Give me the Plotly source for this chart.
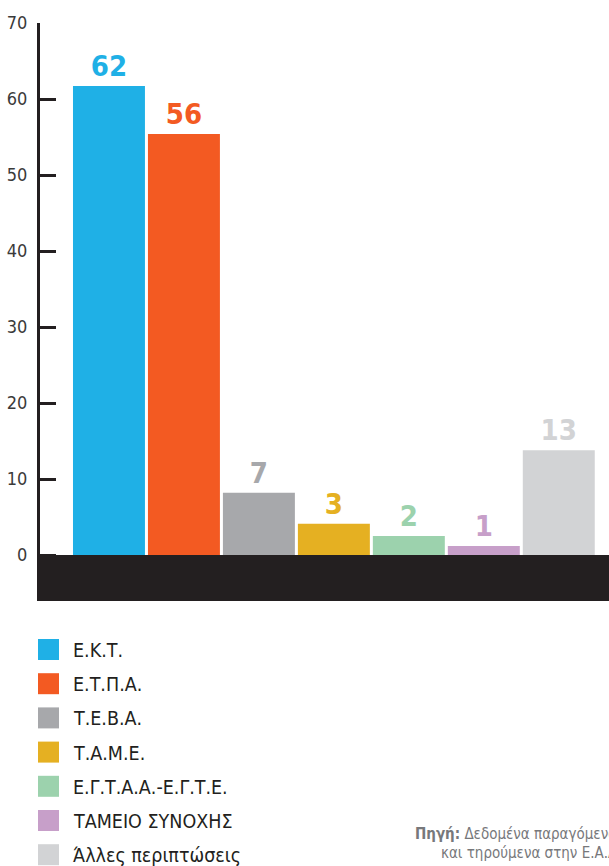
import plotly.graph_objects as go

categories = ["Ε.Κ.Τ.", "Ε.Τ.Π.Α.", "Τ.Ε.Β.Α.", "Τ.Α.Μ.Ε.", "Ε.Γ.Τ.Α.Α.-Ε.Γ.Τ.Ε.", "ΤΑΜΕΙΟ ΣΥΝΟΧΗΣ", "Άλλες περιπτώσεις"]
bar_values = [61.7, 55.4, 8.2, 4.1, 2.5, 1.2, 13.8]
bar_labels = ["62", "56", "7", "3", "2", "1", "13"]
colors = ["#1fb0e6", "#f35a22", "#a7a8ab", "#e5b022", "#9cd2ad", "#c79fc9", "#d2d3d5"]
y_ticks = [0, 10, 20, 30, 40, 50, 60, 70]

W, H = 609, 866
L, R, T, B = 40, 0, 23, 265
PW, PH = W - L - R, H - T - B

def px_x(x):
    return (x - L) / PW

def px_y(y):
    return (H - B - y) / PH

FONT = "Liberation Sans Narrow, DejaVu Sans Condensed, sans-serif"
DARK = "#231f20"

fig = go.Figure()
fig.add_trace(go.Bar(
    x=list(range(len(categories))),
    y=bar_values,
    marker=dict(color=colors, line=dict(width=0)),
    text=bar_labels,
    textposition="outside",
    textfont=dict(family=FONT, size=29, color=colors, weight="bold"),
    cliponaxis=False,
    hoverinfo="skip",
    showlegend=False,
))

shapes = [dict(type="rect", xref="paper", yref="y", x0=px_x(38), x1=1, y0=-6.05, y1=0,
               fillcolor=DARK, line=dict(width=0), layer="above")]
annotations = []
row0, step = 649.5, 34.2
for i, (cat, col) in enumerate(zip(categories, colors)):
    cy = row0 + i * step
    shapes.append(dict(type="rect", xref="paper", yref="paper",
                       x0=px_x(38), x1=px_x(59), y0=px_y(cy + 10.5), y1=px_y(cy - 10.5),
                       fillcolor=col, line=dict(width=0)))
    annotations.append(dict(xref="paper", yref="paper", x=px_x(71), y=px_y(cy + 1),
                            xanchor="left", yanchor="middle", showarrow=False,
                            text=cat, font=dict(family=FONT, size=19.5, color=DARK)))

annotations.append(dict(xref="paper", yref="paper", x=px_x(413), y=px_y(834),
                        xanchor="left", yanchor="middle", showarrow=False,
                        text="<b>Πηγή:</b> Δεδομένα παραγόμενα",
                        font=dict(family=FONT, size=15, color="#77787b")))
annotations.append(dict(xref="paper", yref="paper", x=px_x(439), y=px_y(853),
                        xanchor="left", yanchor="middle", showarrow=False,
                        text="και τηρούμενα στην Ε.Α.Δ.",
                        font=dict(family=FONT, size=15, color="#77787b")))

fig.update_layout(
    width=W, height=H,
    margin=dict(l=L, r=R, t=T, b=B, pad=0),
    paper_bgcolor="white", plot_bgcolor="white",
    bargap=0.04,
    shapes=shapes, annotations=annotations,
    xaxis=dict(range=[-0.92, 6.67], showticklabels=False, showgrid=False,
               zeroline=False, showline=False, ticks=""),
    yaxis=dict(range=[-6.05, 70], tickvals=y_ticks, showgrid=False, zeroline=False,
               showline=True, linewidth=3, linecolor=DARK,
               ticks="inside", ticklen=16, tickwidth=3, tickcolor=DARK,
               ticklabelstandoff=6,
               tickfont=dict(family=FONT, size=18, color="#3a3a3a")),
)

fig.write_html("out.html", config={"displayModeBar": False},
               post_script="document.body.style.margin='0';document.body.style.overflow='hidden';")
